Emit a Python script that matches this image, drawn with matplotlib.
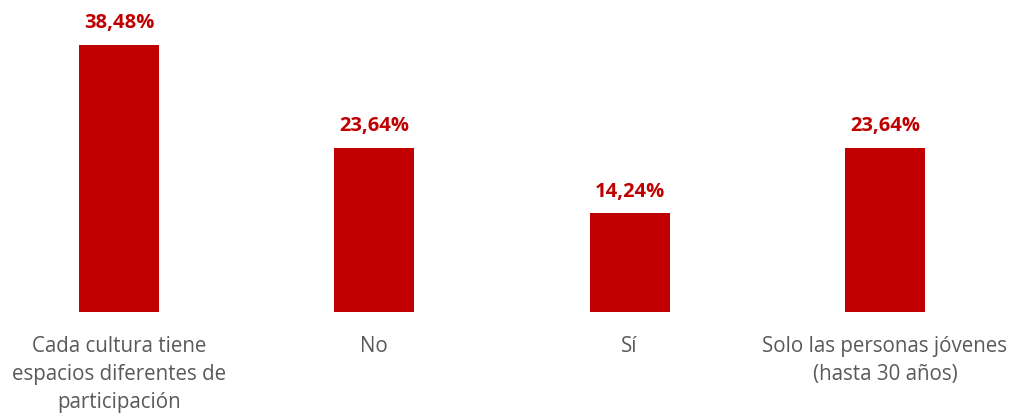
import matplotlib
matplotlib.use("Agg")
import matplotlib.pyplot as plt

categories = ["Cada cultura tiene\nespacios diferentes de\nparticipación", "No", "Sí",
              "Solo las personas jóvenes\n(hasta 30 años)"]
values = [38.48, 23.64, 14.24, 23.64]
value_labels = ["38,48%", "23,64%", "14,24%", "23,64%"]

W, H = 1013, 414
fig = plt.figure(figsize=(W / 100, H / 100), dpi=100)
base_px = 313
ax = fig.add_axes([0, (H - base_px) / H, 1, base_px / H])
x = list(range(len(categories)))
spacing = 255.3
ax.bar(x, values, width=80 / spacing, color="#C00000")
ax.set_xlim(-119 / spacing, (W - 119) / spacing)
ax.set_ylim(0, base_px / 6.94)
for s in ax.spines.values():
    s.set_visible(False)
ax.set_yticks([])
ax.set_xticks(x)
ax.set_xticklabels(categories, fontsize=14.8, color="#595959", family="Open Sans",
                   linespacing=1.45)
ax.tick_params(axis="x", length=0, pad=16.5)
for xi, v, lab in zip(x, values, value_labels):
    ax.annotate(lab, (xi, v), xytext=(0, 9), textcoords="offset points", ha="center",
                va="bottom", fontsize=14.5, fontweight="bold", color="#C00000", family="Open Sans")
fig.savefig("out.png", dpi=100)
